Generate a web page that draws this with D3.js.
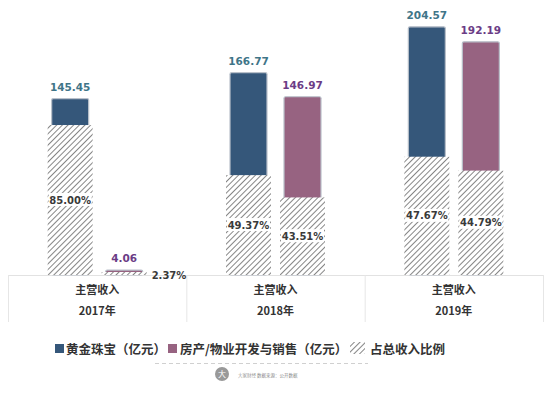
<html>
<head>
<meta charset="utf-8">
<script src="https://cdnjs.cloudflare.com/ajax/libs/d3/7.8.5/d3.min.js"></script>
<style>
  body { margin: 0; background: #fff; }
  svg text { font-family: "Noto Sans CJK SC", "DejaVu Sans", sans-serif; }
  svg text.num { font-family: "DejaVu Sans", sans-serif; }
</style>
</head>
<body>
<div id="chart"></div>
<script>
// data
var years = ["2017年", "2018年", "2019年"];
var rowLabel = "主营收入";
var series = ["gold", "prop"];
var seriesNames = ["黄金珠宝（亿元）", "房产/物业开发与销售（亿元）", "占总收入比例"];
var goldValues = [145.45, 166.77, 204.57];
var propValues = [4.06, 146.97, 192.19];
var goldShare = [85.00, 49.37, 47.67];
var propShare = [2.37, 43.51, 44.79];

var W = 550, H = 393;
var baseY = 275;

var svg = d3.select("#chart").append("svg")
  .attr("width", W).attr("height", H);

var defs = svg.append("defs");
var pat = defs.append("pattern")
  .attr("id", "hatch")
  .attr("patternUnits", "userSpaceOnUse")
  .attr("width", 4).attr("height", 4)
  .attr("patternTransform", "rotate(45)");
pat.append("rect").attr("width", 4).attr("height", 4).attr("fill", "#fff");
pat.append("line").attr("x1", 0).attr("y1", 0).attr("x2", 0).attr("y2", 4)
  .attr("stroke", "#5e5e5e").attr("stroke-width", 1.5);

var x0 = d3.scaleBand().domain(years).range([8, 543]).padding(0);
var bw = x0.bandwidth();
var x1 = d3.scaleBand().domain(series)
  .range([bw / 2 - 45.5, bw / 2 + 45.5])
  .paddingInner(0.315).paddingOuter(0);
var y = d3.scaleLinear().domain([0, 220]).range([baseY, baseY - 220 * 1.213]);

var colors = { gold: "#35577a", prop: "#976381" };
var labelColors = { gold: "#3f7588", prop: "#6b3c86" };

// category table
var grid = svg.append("g");
grid.append("line").attr("x1", 8).attr("x2", 543).attr("y1", baseY + 0.5).attr("y2", baseY + 0.5)
  .attr("stroke", "#e2e2e2");
x0.domain().concat(["end"]).forEach(function (d, i) {
  var xx = i < years.length ? x0(d) : x0.range()[1];
  grid.append("line").attr("x1", xx + 0.5).attr("x2", xx + 0.5)
    .attr("y1", baseY).attr("y2", 322).attr("stroke", "#e6e6e6");
});
years.forEach(function (yr) {
  var cx = x0(yr) + bw / 2;
  svg.append("text").attr("x", cx).attr("y", 294).attr("text-anchor", "middle")
    .attr("font-size", 11).attr("font-weight", "bold").attr("fill", "#333").text(rowLabel);
  svg.append("text").attr("x", cx).attr("y", 315).attr("text-anchor", "middle")
    .attr("font-size", 11).attr("font-weight", "bold").attr("fill", "#333").text(yr);
});

var rows = [];
years.forEach(function (yr, i) {
  rows.push({ year: yr, key: "gold", v: goldValues[i], s: goldShare[i] });
  rows.push({ year: yr, key: "prop", v: propValues[i], s: propShare[i] });
});

var g = svg.append("g");
rows.forEach(function (d) {
  var bx = x0(d.year) + x1(d.key);
  var w = x1.bandwidth();
  var top = y(d.v);
  g.append("rect").attr("x", bx).attr("y", top).attr("width", w).attr("height", baseY - top)
    .attr("rx", 1.5).attr("fill", colors[d.key])
    .attr("stroke", "#b9c0ca").attr("stroke-width", 1.2);
  var hTop = baseY - (baseY - top) * d.s / 100;
  var hh = Math.max(baseY - hTop, 3);
  g.append("rect").attr("x", bx - 4).attr("y", baseY - hh).attr("width", w + 8).attr("height", hh)
    .attr("fill", "url(#hatch)");
  g.append("text").attr("class", "num").attr("x", bx + w / 2).attr("y", top - 8).attr("text-anchor", "middle")
    .attr("font-size", 10.5).attr("font-weight", "bold")
    .attr("fill", labelColors[d.key]).text(d.v.toFixed(2));
  var txt = d.s.toFixed(2) + "%";
  if (hh > 20) {
    var my = (hTop + baseY) / 2;
    g.append("rect").attr("x", bx - 3).attr("y", my - 7).attr("width", w + 6).attr("height", 13)
      .attr("fill", "#fff");
    g.append("text").attr("class", "num").attr("x", bx + w / 2).attr("y", my + 3.5).attr("text-anchor", "middle")
      .attr("font-size", 10).attr("font-weight", "bold")
      .attr("fill", "#3a3a3a").text(txt);
  } else {
    g.append("text").attr("class", "num").attr("x", bx + w + 9).attr("y", baseY + 3.5)
      .attr("font-size", 10).attr("font-weight", "bold")
      .attr("fill", "#3a3a3a").text(txt);
  }
});

// legend
var lg = svg.append("g").attr("font-size", 12.5).attr("font-weight", "bold").attr("fill", "#333");
lg.append("rect").attr("x", 55).attr("y", 344).attr("width", 9).attr("height", 9).attr("fill", colors.gold);
lg.append("text").attr("x", 66).attr("y", 353.5).text(seriesNames[0]);
lg.append("rect").attr("x", 168).attr("y", 344).attr("width", 9).attr("height", 9).attr("fill", colors.prop);
lg.append("text").attr("x", 180).attr("y", 353.5).text(seriesNames[1]);
lg.append("rect").attr("x", 350).attr("y", 342).attr("width", 15).attr("height", 12).attr("fill", "url(#hatch)");
lg.append("text").attr("x", 370).attr("y", 353.5).text(seriesNames[2]);

// footer
svg.append("line").attr("x1", 155).attr("x2", 368).attr("y1", 363.5).attr("y2", 363.5)
  .attr("stroke", "#d0d0d0").attr("stroke-dasharray", "4,3");
svg.append("circle").attr("cx", 222).attr("cy", 374).attr("r", 7).attr("fill", "#999");
svg.append("text").attr("x", 222).attr("y", 377).attr("text-anchor", "middle")
  .attr("font-size", 8).attr("fill", "#fff").text("大");
svg.append("text").attr("x", 238).attr("y", 377).attr("font-size", 4.5).attr("fill", "#999").text("大家财经");
svg.append("text").attr("x", 257).attr("y", 377).attr("font-size", 4.5).attr("fill", "#888").text("数据来源：公开数据");
</script>
</body>
</html>
